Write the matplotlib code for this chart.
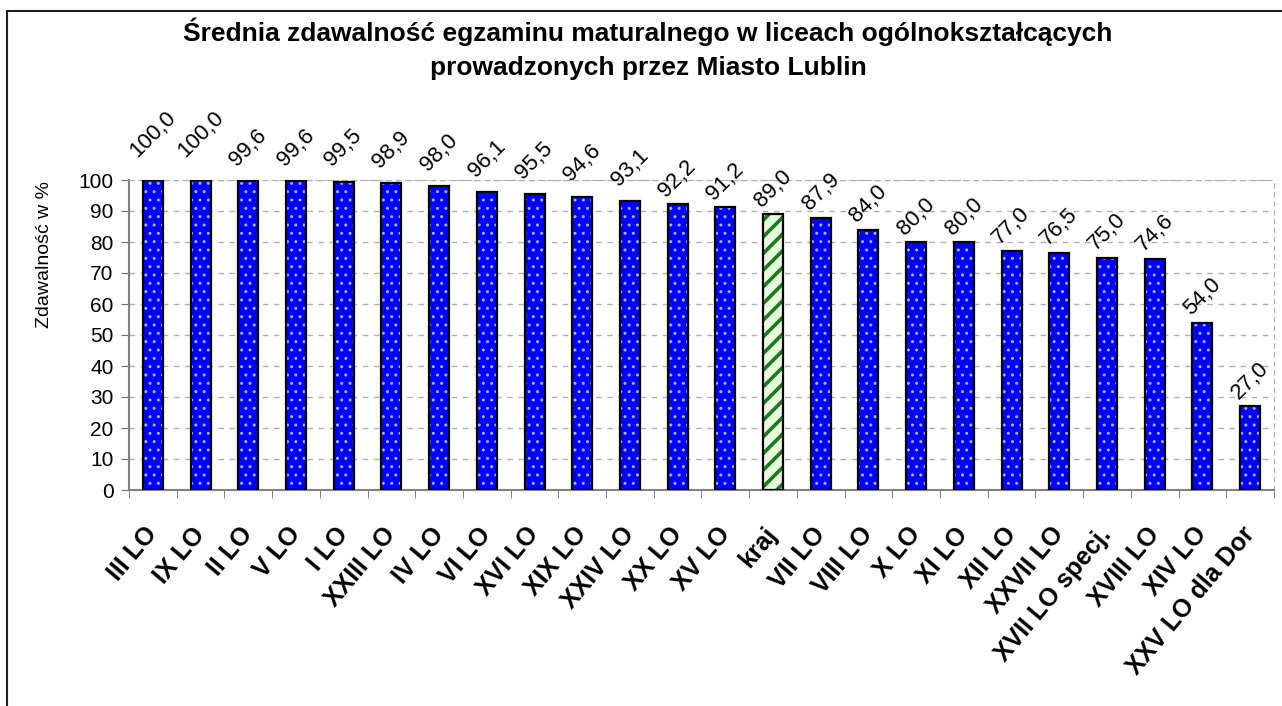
import matplotlib.pyplot as plt
import matplotlib.patches as mpatches
import numpy as np

plt.rcParams['font.family'] = ['Liberation Sans', 'DejaVu Sans']
plt.rcParams['hatch.linewidth'] = 1.0

# data
schools = ["III LO", "IX LO", "II LO", "V LO", "I LO", "XXIII LO", "IV LO", "VI LO",
           "XVI LO", "XIX LO", "XXIV LO", "XX LO", "XV LO", "kraj", "VII LO", "VIII LO",
           "X LO", "XI LO", "XII LO", "XXVII LO", "XVII LO specj.", "XVIII LO", "XIV LO",
           "XXV LO dla Dor"]
values = [100.0, 100.0, 99.6, 99.6, 99.5, 98.9, 98.0, 96.1, 95.5, 94.6, 93.1, 92.2, 91.2,
          89.0, 87.9, 84.0, 80.0, 80.0, 77.0, 76.5, 75.0, 74.6, 54.0, 27.0]
national = "kraj"

fig = plt.figure(figsize=(12.82, 7.06), dpi=100)
ax = fig.add_axes([129 / 1282, 1 - 490 / 706, (1274 - 129) / 1282, 310 / 706])

# outer chart frame
fig.patches.append(mpatches.Rectangle((7 / 1282, -0.05), 1.0, 1 - 11 / 706 + 0.05,
                                      transform=fig.transFigure, fill=False,
                                      edgecolor='#202020', linewidth=1.5, zorder=0))

x = np.arange(len(schools))
w = 0.42
for i, (name, v) in enumerate(zip(schools, values)):
    if name == national:
        bars = ax.bar(i, v, w, color='#e6fbdc', edgecolor='#1f7a1f', hatch='//',
                      linewidth=0, zorder=2)
        for p in bars:
            if hasattr(p, 'set_hatch_linewidth'):
                p.set_hatch_linewidth(2.6)
    else:
        ax.bar(i, v, w, color='#0000ff', edgecolor='#a8b0ff', hatch='..', linewidth=0, zorder=2)
    ax.bar(i, v, w, fill=False, edgecolor='black', linewidth=1.6, zorder=3)
    # Excel lifts the labels of the tallest bars a bit more
    gap = 3 + (8 if v >= 93 else 0) + (8 if v >= 100 else 0)
    ax.annotate(f"{v:.1f}".replace('.', ','), (i, v), xytext=(0, gap),
                textcoords='offset pixels', ha='center', va='bottom',
                rotation=45, fontsize=16)

ax.set_xlim(-0.5, len(schools) - 0.5)
ax.set_ylim(0, 100)
ax.set_yticks(range(0, 101, 10))
ax.yaxis.grid(True, linestyle=(0, (4, 4)), color='#b0b0b0', linewidth=1)
ax.set_axisbelow(True)

ax.set_xticks(x)
ax.set_xticklabels(schools, rotation=50, ha='right', va='center',
                   rotation_mode='anchor', fontsize=18, fontweight='bold')
ax.set_xticks(np.arange(-0.5, len(schools)), minor=True)
ax.tick_params(axis='x', which='major', length=0, pad=29)
ax.tick_params(axis='x', which='minor', length=6, color='#707070')
ax.tick_params(axis='y', length=6, color='#707070', labelsize=15, pad=5)

for s in ['left', 'bottom']:
    ax.spines[s].set_color('#808080')
    ax.spines[s].set_linewidth(1.5)
for s in ['top', 'right']:
    ax.spines[s].set_color('#b0b0b0')
    ax.spines[s].set_linestyle((0, (4, 4)))

ax.set_ylabel("Zdawalność w %", fontsize=14)
ax.yaxis.set_label_coords((53 - 129) / 1145, (490 - 255) / 310)
title_x = 648 / 1282
fig.text(title_x, 1 - 32 / 706, "Średnia zdawalność egzaminu maturalnego w liceach ogólnokształcących",
         ha='center', va='center', fontsize=19, fontweight='bold')
fig.text(title_x, 1 - 68 / 706, "prowadzonych przez Miasto Lublin",
         ha='center', va='center', fontsize=19, fontweight='bold')

fig.savefig('out.png', dpi=100)
